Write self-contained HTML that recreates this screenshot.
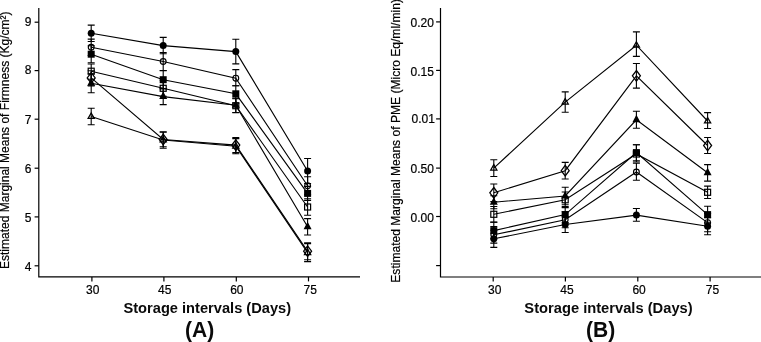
<!DOCTYPE html>
<html><head><meta charset="utf-8"><title>Figure</title>
<style>html,body{margin:0;padding:0;background:#fff}body{width:761px;height:342px;overflow:hidden;position:relative}</style>
</head><body>
<svg width="761" height="342" viewBox="0 0 761 342" style="position:absolute;left:0;top:0">
<rect width="761" height="342" fill="#fff"/>
<g fill="none" stroke="#000" stroke-width="1.2">
<path d="M38.8 8V276.9H360"/>
<path d="M34.6 22.2H38.8"/>
<path d="M34.6 70.6H38.8"/>
<path d="M34.6 119.2H38.8"/>
<path d="M34.6 168.2H38.8"/>
<path d="M34.6 216.9H38.8"/>
<path d="M34.6 265.8H38.8"/>
<path d="M91.9 276.9V281.4"/>
<path d="M163.9 276.9V281.4"/>
<path d="M236.3 276.9V281.4"/>
<path d="M308.5 276.9V281.4"/>
<path d="M440.5 8V277H761"/>
<path d="M436.1 21.9H440.5"/>
<path d="M436.1 70.4H440.5"/>
<path d="M436.1 118.9H440.5"/>
<path d="M436.1 168.1H440.5"/>
<path d="M436.1 216.5H440.5"/>
<path d="M436.1 265.6H440.5"/>
<path d="M493.2 277V281.4"/>
<path d="M565.4 277V281.4"/>
<path d="M637.8 277V281.4"/>
<path d="M710.1 277V281.4"/>
</g>
<g font-family="Liberation Sans, Arial, sans-serif" font-size="12" fill="#000" stroke="#000" stroke-width="0.2">
<text x="28.2" y="25.8" text-anchor="middle">9</text>
<text x="28.2" y="74.4" text-anchor="middle">8</text>
<text x="28.2" y="123.7" text-anchor="middle">7</text>
<text x="28.2" y="173.1" text-anchor="middle">6</text>
<text x="28.2" y="221.8" text-anchor="middle">5</text>
<text x="28.2" y="270.6" text-anchor="middle">4</text>
<text x="92.8" y="294" text-anchor="middle">30</text>
<text x="164.65" y="294" text-anchor="middle">45</text>
<text x="236.85" y="294" text-anchor="middle">60</text>
<text x="310.3" y="294" text-anchor="middle">75</text>
<text x="410.5" y="26.6">0.20</text>
<text x="410.5" y="75.6">0.15</text>
<text x="411.6" y="123.4">0.01</text>
<text x="410.5" y="172.8">0.50</text>
<text x="410.5" y="221.6">0.00</text>
<text x="494.8" y="294" text-anchor="middle">30</text>
<text x="567.0" y="294" text-anchor="middle">45</text>
<text x="639.1" y="294" text-anchor="middle">60</text>
<text x="712.5" y="294" text-anchor="middle">75</text>
<text id="ya" transform="translate(8.6 269) rotate(-90)" textLength="257.5" lengthAdjust="spacingAndGlyphs">Estimated Marginal Means of Firmness (Kg/cm²)</text>
<text id="yb" transform="translate(399.9 282.7) rotate(-90)" textLength="283.6" lengthAdjust="spacingAndGlyphs">Estimated Marginal Means of PME (Micro Eq/ml/min)</text>
</g>
<g font-family="Liberation Sans, Arial, sans-serif" font-weight="bold" fill="#0a0a0a">
<text id="xa" x="207.3" y="313.3" font-size="15.4" text-anchor="middle" textLength="167.7" lengthAdjust="spacingAndGlyphs">Storage intervals (Days)</text>
<text id="xb" x="608.5" y="313.3" font-size="15.4" text-anchor="middle" textLength="168.3" lengthAdjust="spacingAndGlyphs">Storage intervals (Days)</text>
<text id="la" x="199.6" y="336.6" font-size="22" text-anchor="middle" textLength="29.2" lengthAdjust="spacingAndGlyphs">(A)</text>
<text id="lb" x="600.6" y="336.6" font-size="22" text-anchor="middle" textLength="29.2" lengthAdjust="spacingAndGlyphs">(B)</text>
</g>
<polyline points="91.2,33.3 163.2,45.6 235.8,51.6 307.6,171.0" fill="none" stroke="#000" stroke-width="1.12"/>
<path d="M91.2 25.099999999999998V41.5M87.7 25.099999999999998h7M87.7 41.5h7" fill="none" stroke="#000" stroke-width="1.1"/>
<path d="M163.2 37.400000000000006V53.8M159.7 37.400000000000006h7M159.7 53.8h7" fill="none" stroke="#000" stroke-width="1.1"/>
<path d="M235.8 39.3V63.900000000000006M232.3 39.3h7M232.3 63.900000000000006h7" fill="none" stroke="#000" stroke-width="1.1"/>
<path d="M307.6 158.5V183.5M304.1 158.5h7M304.1 183.5h7" fill="none" stroke="#000" stroke-width="1.1"/>
<circle cx="91.2" cy="33.3" r="3.5" fill="#000"/>
<circle cx="163.2" cy="45.6" r="3.5" fill="#000"/>
<circle cx="235.8" cy="51.6" r="3.5" fill="#000"/>
<circle cx="307.6" cy="171.0" r="3.5" fill="#000"/>
<polyline points="91.2,47.3 163.2,61.5 235.8,78.2 307.6,185.8" fill="none" stroke="#000" stroke-width="1.12"/>
<path d="M91.2 39.099999999999994V55.5M87.7 39.099999999999994h7M87.7 55.5h7" fill="none" stroke="#000" stroke-width="1.1"/>
<path d="M163.2 52.5V70.5M159.7 52.5h7M159.7 70.5h7" fill="none" stroke="#000" stroke-width="1.1"/>
<path d="M235.8 69.60000000000001V85.8M232.3 69.60000000000001h7M232.3 85.8h7" fill="none" stroke="#000" stroke-width="1.1"/>
<path d="M307.6 176.8V194.8M304.1 176.8h7M304.1 194.8h7" fill="none" stroke="#000" stroke-width="1.1"/>
<circle cx="91.2" cy="47.3" r="2.9" fill="none" stroke="#000" stroke-width="1.15"/>
<circle cx="163.2" cy="61.5" r="2.9" fill="none" stroke="#000" stroke-width="1.15"/>
<circle cx="235.8" cy="78.2" r="2.9" fill="none" stroke="#000" stroke-width="1.15"/>
<circle cx="307.6" cy="185.8" r="2.9" fill="none" stroke="#000" stroke-width="1.15"/>
<polyline points="91.2,54.2 163.2,79.7 235.8,93.8 307.6,193.4" fill="none" stroke="#000" stroke-width="1.12"/>
<path d="M91.2 45.7V62.7M87.7 45.7h7M87.7 62.7h7" fill="none" stroke="#000" stroke-width="1.1"/>
<path d="M163.2 70.7V88.7M159.7 70.7h7M159.7 88.7h7" fill="none" stroke="#000" stroke-width="1.1"/>
<path d="M235.8 85.8V103.3M232.3 85.8h7M232.3 103.3h7" fill="none" stroke="#000" stroke-width="1.1"/>
<path d="M307.6 186.4V200.4M304.1 186.4h7M304.1 200.4h7" fill="none" stroke="#000" stroke-width="1.1"/>
<rect x="87.7" y="50.7" width="7" height="7" fill="#000"/>
<rect x="159.7" y="76.2" width="7" height="7" fill="#000"/>
<rect x="232.3" y="90.3" width="7" height="7" fill="#000"/>
<rect x="304.1" y="189.9" width="7" height="7" fill="#000"/>
<polyline points="91.2,71.2 163.2,88.3 235.8,105.7 307.6,207.0" fill="none" stroke="#000" stroke-width="1.12"/>
<path d="M91.2 64.0V79.2M87.7 64.0h7M87.7 79.2h7" fill="none" stroke="#000" stroke-width="1.1"/>
<path d="M163.2 80.3V96.3M159.7 80.3h7M159.7 96.3h7" fill="none" stroke="#000" stroke-width="1.1"/>
<path d="M235.8 98.7V112.7M232.3 98.7h7M232.3 112.7h7" fill="none" stroke="#000" stroke-width="1.1"/>
<path d="M307.6 198.7V215.3M304.1 198.7h7M304.1 215.3h7" fill="none" stroke="#000" stroke-width="1.1"/>
<rect x="88.2" y="68.2" width="6" height="6" fill="none" stroke="#000" stroke-width="1.2"/>
<rect x="160.2" y="85.3" width="6" height="6" fill="none" stroke="#000" stroke-width="1.2"/>
<rect x="232.8" y="102.7" width="6" height="6" fill="none" stroke="#000" stroke-width="1.2"/>
<rect x="304.6" y="204.0" width="6" height="6" fill="none" stroke="#000" stroke-width="1.2"/>
<polyline points="91.2,83.3 163.2,96.6 235.8,105.3 307.6,226.8" fill="none" stroke="#000" stroke-width="1.12"/>
<path d="M91.2 73.7V92.8M87.7 73.7h7M87.7 92.8h7" fill="none" stroke="#000" stroke-width="1.1"/>
<path d="M163.2 88.6V104.6M159.7 88.6h7M159.7 104.6h7" fill="none" stroke="#000" stroke-width="1.1"/>
<path d="M235.8 98.1V112.5M232.3 98.1h7M232.3 112.5h7" fill="none" stroke="#000" stroke-width="1.1"/>
<path d="M307.6 218.60000000000002V235.0M304.1 218.60000000000002h7M304.1 235.0h7" fill="none" stroke="#000" stroke-width="1.1"/>
<path d="M91.2 78.3L95.2 85.8L87.2 85.8Z" fill="#000"/>
<path d="M163.2 91.6L167.2 99.1L159.2 99.1Z" fill="#000"/>
<path d="M235.8 100.3L239.8 107.8L231.8 107.8Z" fill="#000"/>
<path d="M307.6 221.8L311.6 229.3L303.6 229.3Z" fill="#000"/>
<polyline points="91.2,77.9 163.2,139.5 235.8,145.1 307.6,251.2" fill="none" stroke="#000" stroke-width="1.12"/>
<path d="M91.2 70.7V85.9M87.7 70.7h7M87.7 85.9h7" fill="none" stroke="#000" stroke-width="1.1"/>
<path d="M163.2 132.2V146.8M159.7 132.2h7M159.7 146.8h7" fill="none" stroke="#000" stroke-width="1.1"/>
<path d="M235.8 137.6V152.6M232.3 137.6h7M232.3 152.6h7" fill="none" stroke="#000" stroke-width="1.1"/>
<path d="M307.6 242.7V259.7M304.1 242.7h7M304.1 259.7h7" fill="none" stroke="#000" stroke-width="1.1"/>
<path d="M91.2 72.60000000000001L95.2 77.9L91.2 83.2L87.2 77.9Z" fill="none" stroke="#000" stroke-width="1.25"/>
<path d="M163.2 134.2L167.2 139.5L163.2 144.8L159.2 139.5Z" fill="none" stroke="#000" stroke-width="1.25"/>
<path d="M235.8 139.79999999999998L239.8 145.1L235.8 150.4L231.8 145.1Z" fill="none" stroke="#000" stroke-width="1.25"/>
<path d="M307.6 245.89999999999998L311.6 251.2L307.6 256.5L303.6 251.2Z" fill="none" stroke="#000" stroke-width="1.25"/>
<polyline points="91.2,116.5 163.2,140.0 235.8,146.2 307.6,252.6" fill="none" stroke="#000" stroke-width="1.12"/>
<path d="M91.2 108.3V124.7M87.7 108.3h7M87.7 124.7h7" fill="none" stroke="#000" stroke-width="1.1"/>
<path d="M163.2 131.7V148.3M159.7 131.7h7M159.7 148.3h7" fill="none" stroke="#000" stroke-width="1.1"/>
<path d="M235.8 138.6V153.79999999999998M232.3 138.6h7M232.3 153.79999999999998h7" fill="none" stroke="#000" stroke-width="1.1"/>
<path d="M307.6 243.6V261.6M304.1 243.6h7M304.1 261.6h7" fill="none" stroke="#000" stroke-width="1.1"/>
<path d="M91.2 113.0L94.3 118.4L88.10000000000001 118.4Z" fill="none" stroke="#000" stroke-width="1.25"/>
<path d="M163.2 136.5L166.29999999999998 141.9L160.1 141.9Z" fill="none" stroke="#000" stroke-width="1.25"/>
<path d="M235.8 142.7L238.9 148.1L232.70000000000002 148.1Z" fill="none" stroke="#000" stroke-width="1.25"/>
<path d="M307.6 249.1L310.70000000000005 254.5L304.5 254.5Z" fill="none" stroke="#000" stroke-width="1.25"/>
<polyline points="493.8,168.1 565.2,102.1 636.4,45.2 707.6,121.0" fill="none" stroke="#000" stroke-width="1.12"/>
<path d="M493.8 159.7V176.5M490.3 159.7h7M490.3 176.5h7" fill="none" stroke="#000" stroke-width="1.1"/>
<path d="M565.2 91.89999999999999V112.3M561.7 91.89999999999999h7M561.7 112.3h7" fill="none" stroke="#000" stroke-width="1.1"/>
<path d="M636.4 31.900000000000002V56.400000000000006M632.9 31.900000000000002h7M632.9 56.400000000000006h7" fill="none" stroke="#000" stroke-width="1.1"/>
<path d="M707.6 112.6V128.5M704.1 112.6h7M704.1 128.5h7" fill="none" stroke="#000" stroke-width="1.1"/>
<path d="M493.8 164.6L496.90000000000003 170.0L490.7 170.0Z" fill="none" stroke="#000" stroke-width="1.25"/>
<path d="M565.2 98.6L568.3000000000001 104.0L562.1 104.0Z" fill="none" stroke="#000" stroke-width="1.25"/>
<path d="M636.4 41.7L639.5 47.1L633.3 47.1Z" fill="none" stroke="#000" stroke-width="1.25"/>
<path d="M707.6 117.5L710.7 122.9L704.5 122.9Z" fill="none" stroke="#000" stroke-width="1.25"/>
<polyline points="493.8,192.8 565.2,170.7 636.4,75.8 707.6,145.5" fill="none" stroke="#000" stroke-width="1.12"/>
<path d="M493.8 184.0V201.60000000000002M490.3 184.0h7M490.3 201.60000000000002h7" fill="none" stroke="#000" stroke-width="1.1"/>
<path d="M565.2 162.39999999999998V179.0M561.7 162.39999999999998h7M561.7 179.0h7" fill="none" stroke="#000" stroke-width="1.1"/>
<path d="M636.4 63.5V88.1M632.9 63.5h7M632.9 88.1h7" fill="none" stroke="#000" stroke-width="1.1"/>
<path d="M707.6 137.5V153.5M704.1 137.5h7M704.1 153.5h7" fill="none" stroke="#000" stroke-width="1.1"/>
<path d="M493.8 187.5L497.8 192.8L493.8 198.10000000000002L489.8 192.8Z" fill="none" stroke="#000" stroke-width="1.25"/>
<path d="M565.2 165.39999999999998L569.2 170.7L565.2 176.0L561.2 170.7Z" fill="none" stroke="#000" stroke-width="1.25"/>
<path d="M636.4 70.5L640.4 75.8L636.4 81.1L632.4 75.8Z" fill="none" stroke="#000" stroke-width="1.25"/>
<path d="M707.6 140.2L711.6 145.5L707.6 150.8L703.6 145.5Z" fill="none" stroke="#000" stroke-width="1.25"/>
<polyline points="493.8,202.2 565.2,196.0 636.4,119.8 707.6,172.8" fill="none" stroke="#000" stroke-width="1.12"/>
<path d="M493.8 195.7V208.7M490.3 195.7h7M490.3 208.7h7" fill="none" stroke="#000" stroke-width="1.1"/>
<path d="M565.2 187.2V204.8M561.7 187.2h7M561.7 204.8h7" fill="none" stroke="#000" stroke-width="1.1"/>
<path d="M636.4 111.3V128.2M632.9 111.3h7M632.9 128.2h7" fill="none" stroke="#000" stroke-width="1.1"/>
<path d="M707.6 164.60000000000002V181.10000000000002M704.1 164.60000000000002h7M704.1 181.10000000000002h7" fill="none" stroke="#000" stroke-width="1.1"/>
<path d="M493.8 197.2L497.8 204.7L489.8 204.7Z" fill="#000"/>
<path d="M565.2 191.0L569.2 198.5L561.2 198.5Z" fill="#000"/>
<path d="M636.4 114.8L640.4 122.3L632.4 122.3Z" fill="#000"/>
<path d="M707.6 167.8L711.6 175.3L703.6 175.3Z" fill="#000"/>
<polyline points="493.8,214.3 565.2,199.8 636.4,154.0 707.6,192.3" fill="none" stroke="#000" stroke-width="1.12"/>
<path d="M493.8 206.5V222.10000000000002M490.3 206.5h7M490.3 222.10000000000002h7" fill="none" stroke="#000" stroke-width="1.1"/>
<path d="M565.2 192.0V207.60000000000002M561.7 192.0h7M561.7 207.60000000000002h7" fill="none" stroke="#000" stroke-width="1.1"/>
<path d="M636.4 144.8V162.0M632.9 144.8h7M632.9 162.0h7" fill="none" stroke="#000" stroke-width="1.1"/>
<path d="M707.6 186.10000000000002V198.5M704.1 186.10000000000002h7M704.1 198.5h7" fill="none" stroke="#000" stroke-width="1.1"/>
<rect x="490.8" y="211.3" width="6" height="6" fill="none" stroke="#000" stroke-width="1.2"/>
<rect x="562.2" y="196.8" width="6" height="6" fill="none" stroke="#000" stroke-width="1.2"/>
<rect x="633.4" y="151.0" width="6" height="6" fill="none" stroke="#000" stroke-width="1.2"/>
<rect x="704.6" y="189.3" width="6" height="6" fill="none" stroke="#000" stroke-width="1.2"/>
<polyline points="493.8,230.6 565.2,214.6 636.4,152.6 707.6,214.6" fill="none" stroke="#000" stroke-width="1.12"/>
<path d="M493.8 222.29999999999998V238.9M490.3 222.29999999999998h7M490.3 238.9h7" fill="none" stroke="#000" stroke-width="1.1"/>
<path d="M565.2 206.6V222.6M561.7 206.6h7M561.7 222.6h7" fill="none" stroke="#000" stroke-width="1.1"/>
<path d="M636.4 144.79999999999998V160.7M632.9 144.79999999999998h7M632.9 160.7h7" fill="none" stroke="#000" stroke-width="1.1"/>
<path d="M707.6 206.29999999999998V222.9M704.1 206.29999999999998h7M704.1 222.9h7" fill="none" stroke="#000" stroke-width="1.1"/>
<rect x="490.3" y="227.1" width="7" height="7" fill="#000"/>
<rect x="561.7" y="211.1" width="7" height="7" fill="#000"/>
<rect x="632.9" y="149.1" width="7" height="7" fill="#000"/>
<rect x="704.1" y="211.1" width="7" height="7" fill="#000"/>
<polyline points="493.8,234.8 565.2,219.8 636.4,172.0 707.6,222.6" fill="none" stroke="#000" stroke-width="1.12"/>
<path d="M493.8 226.5V243.10000000000002M490.3 226.5h7M490.3 243.10000000000002h7" fill="none" stroke="#000" stroke-width="1.1"/>
<path d="M565.2 211.8V227.8M561.7 211.8h7M561.7 227.8h7" fill="none" stroke="#000" stroke-width="1.1"/>
<path d="M636.4 163.3V180.3M632.9 163.3h7M632.9 180.3h7" fill="none" stroke="#000" stroke-width="1.1"/>
<path d="M707.6 213.4V231.79999999999998M704.1 213.4h7M704.1 231.79999999999998h7" fill="none" stroke="#000" stroke-width="1.1"/>
<circle cx="493.8" cy="234.8" r="2.9" fill="none" stroke="#000" stroke-width="1.15"/>
<circle cx="565.2" cy="219.8" r="2.9" fill="none" stroke="#000" stroke-width="1.15"/>
<circle cx="636.4" cy="172.0" r="2.9" fill="none" stroke="#000" stroke-width="1.15"/>
<circle cx="707.6" cy="222.6" r="2.9" fill="none" stroke="#000" stroke-width="1.15"/>
<polyline points="493.8,238.8 565.2,224.5 636.4,215.1 707.6,226.2" fill="none" stroke="#000" stroke-width="1.12"/>
<path d="M493.8 230.20000000000002V247.4M490.3 230.20000000000002h7M490.3 247.4h7" fill="none" stroke="#000" stroke-width="1.1"/>
<path d="M565.2 216.5V232.5M561.7 216.5h7M561.7 232.5h7" fill="none" stroke="#000" stroke-width="1.1"/>
<path d="M636.4 208.5V221.29999999999998M632.9 208.5h7M632.9 221.29999999999998h7" fill="none" stroke="#000" stroke-width="1.1"/>
<path d="M707.6 217.7V234.7M704.1 217.7h7M704.1 234.7h7" fill="none" stroke="#000" stroke-width="1.1"/>
<circle cx="493.8" cy="238.8" r="3.5" fill="#000"/>
<circle cx="565.2" cy="224.5" r="3.5" fill="#000"/>
<circle cx="636.4" cy="215.1" r="3.5" fill="#000"/>
<circle cx="707.6" cy="226.2" r="3.5" fill="#000"/>
</svg>
</body></html>
